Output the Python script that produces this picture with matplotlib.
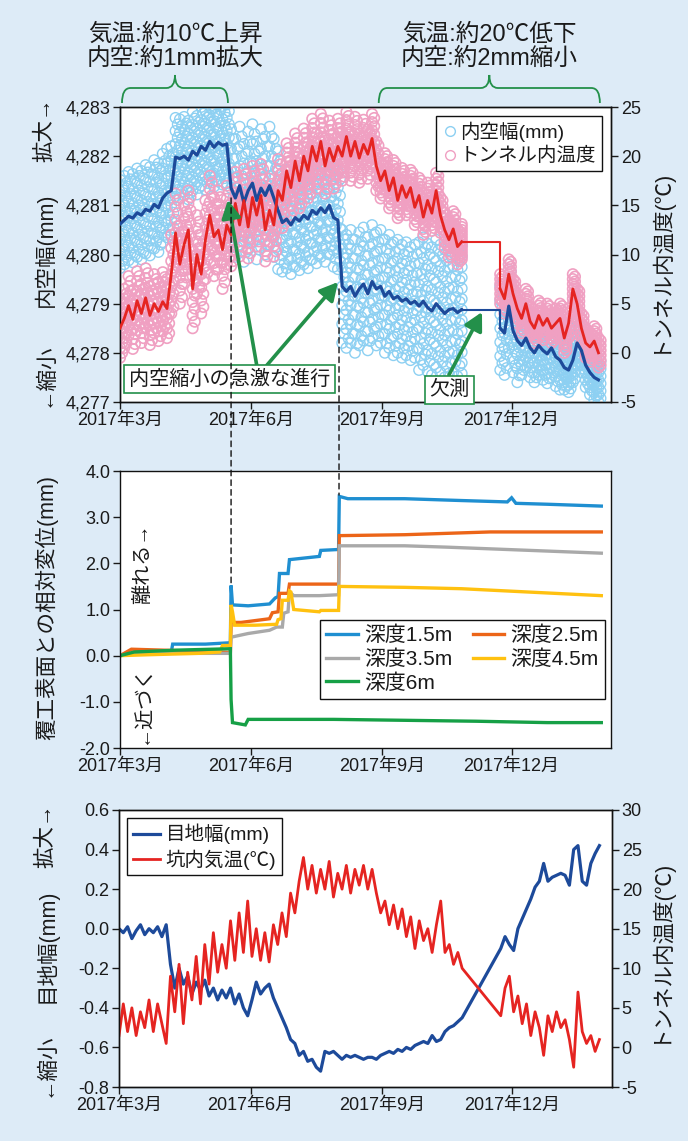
import numpy as np
import matplotlib
matplotlib.use('Agg')
import matplotlib.pyplot as plt
import matplotlib.dates as mdates
import matplotlib.transforms as mtransforms
from matplotlib.path import Path
from matplotlib.patches import PathPatch, ConnectionPatch
from matplotlib.lines import Line2D
from matplotlib.ticker import FixedLocator, FuncFormatter
from datetime import datetime

plt.rcParams['font.family'] = ['Liberation Sans', 'Noto Sans CJK JP', 'DejaVu Sans']
plt.rcParams['axes.unicode_minus'] = False
plt.rcParams['text.color'] = '#1a1a1a'
plt.rcParams['xtick.color'] = '#1a1a1a'
plt.rcParams['ytick.color'] = '#1a1a1a'

# ---- data (days counted from 2017-03-01) ----
START = datetime(2017, 3, 1)
X_END_DAY = 344.8
XTICK_DAYS = [0, 92, 184, 275]
XTICK_LABELS = ['2017年3月', '2017年6月', '2017年9月', '2017年12月']

# sample days (no data between day 240 and 267)
DAYS = list(range(0, 241, 3)) + list(range(267, 337, 3))

# top: inner width (mm) and tunnel temperature (C), daily means
TOP_WIDTH = [4280.62, 4280.70, 4280.78, 4280.74, 4280.85, 4280.80, 4280.92, 4280.88, 4281.02, 4280.95,
             4281.15, 4281.25, 4281.30, 4281.98, 4281.95, 4282.00, 4281.92, 4282.10, 4282.02, 4282.20,
             4282.12, 4282.30, 4282.18, 4282.28, 4282.22, 4282.25, 4281.35, 4281.15, 4281.40, 4281.05,
             4281.30, 4281.45, 4281.10, 4281.35, 4281.20, 4281.40, 4281.15, 4280.90, 4280.65, 4280.72,
             4280.60, 4280.75, 4280.68, 4280.80, 4280.72, 4280.90, 4280.82, 4280.95, 4280.85, 4281.00,
             4280.75, 4280.70, 4279.35, 4279.25, 4279.35, 4279.15, 4279.30, 4279.40, 4279.20, 4279.45,
             4279.30, 4279.35, 4279.15, 4279.25, 4279.10, 4279.15, 4279.05, 4279.10, 4279.00, 4279.05,
             4278.95, 4279.05, 4278.92, 4278.85, 4279.00, 4278.90, 4278.80, 4278.88, 4278.90, 4278.82,
             4278.88,
             4278.50, 4278.40, 4278.95, 4278.45, 4278.25, 4278.15, 4278.30, 4278.10, 4278.00, 4278.15,
             4278.05, 4277.98, 4278.10, 4277.92, 4277.85, 4277.70, 4277.65, 4277.85, 4278.20, 4278.05,
             4277.75, 4277.60, 4277.50, 4277.45]
# spread of the raw (hourly) readings around the daily mean
TOP_WIDTH_SPREAD = [0.9] * 13 + [0.8] * 13 + [1.2] * 12 + [1.0] * 14 + [1.15] * 18 + [1.3] * 11 \
    + [0.85] * 5 + [0.6] * 10 + [0.45] * 9

TOP_TEMP = [2.5, 3.5, 4.8, 3.4, 5.3, 4.0, 5.6, 3.8, 5.0, 4.2,
            5.2, 4.5, 8.0, 12.2, 9.0, 11.0, 12.5, 6.5, 10.0, 8.0,
            11.5, 14.0, 11.8, 12.5, 10.5, 13.0, 12.0, 15.2, 13.0, 15.5,
            12.8, 15.8, 14.0, 16.0, 12.5, 14.5, 13.0, 16.5, 15.5, 18.5,
            16.8, 19.5, 17.5, 20.0, 18.5, 21.0, 19.5, 21.5, 19.0, 20.8,
            19.5, 21.0, 20.0, 22.0, 20.0, 21.5, 19.8, 21.2, 20.2, 21.8,
            19.0, 17.5, 18.5, 16.5, 17.8, 15.5, 17.0, 15.8, 16.8, 14.8,
            16.0, 13.8, 15.5, 14.2, 16.5, 14.0, 12.5, 11.5, 12.6, 10.8,
            11.3,
            6.5, 5.5, 8.0, 6.0, 4.5, 3.5, 5.0, 3.2, 2.5, 3.8,
            2.8, 3.5, 2.5, 3.0, 3.5, 1.5, 3.0, 6.5, 5.0, 2.5,
            1.0, 0.6, 1.2, 0.0]
TOP_TEMP_SPREAD = [3.0] * 12 + [4.0] * 14 + [3.2] * 12 + [2.8] * 14 + [2.5] * 9 + [1.8] * 20 + [1.5] * 24

TOP_YTICKS = [4277, 4278, 4279, 4280, 4281, 4282, 4283]
TEMP_TICKS_TOP = [-5, 0, 5, 10, 15, 20, 25]

# middle: relative displacement from lining surface (mm), by depth
DEPTH_LABELS = ['深度1.5m', '深度2.5m', '深度3.5m', '深度4.5m', '深度6m']
D15_DAYS = [0, 10, 36, 37, 60, 77.5, 78, 79, 90, 105, 109, 111, 112, 118, 119, 140, 141, 153.5, 154,
            160, 200, 240, 272, 275, 278, 300, 338]
D15_VALS = [0.0, 0.05, 0.08, 0.25, 0.25, 0.28, 1.52, 1.10, 1.08, 1.12, 1.25, 1.28, 1.78, 1.78, 2.08,
            2.15, 2.28, 2.30, 3.45, 3.40, 3.40, 3.36, 3.33, 3.42, 3.30, 3.28, 3.24]
D25_DAYS = [0, 8, 30, 77.5, 78, 85, 105, 107, 111, 112, 118, 119, 153.5, 154, 200, 260, 338]
D25_VALS = [0.0, 0.14, 0.12, 0.07, 0.72, 0.72, 0.80, 0.93, 0.95, 1.35, 1.35, 1.55, 1.55, 2.60, 2.62,
            2.68, 2.68]
D35_DAYS = [0, 10, 77.5, 78, 90, 105, 110, 114, 115, 118, 119, 122, 140, 153.5, 154, 200, 230, 338]
D35_VALS = [0.0, 0.05, 0.05, 0.40, 0.48, 0.55, 0.62, 0.62, 0.92, 0.95, 1.38, 1.30, 1.30, 1.32, 2.38,
            2.38, 2.35, 2.22]
D45_DAYS = [0, 20, 55, 70, 72, 77.5, 78, 79, 80.5, 95, 110, 111, 113, 114, 118, 119, 120, 122, 140,
            141, 153.5, 154, 200, 240, 338]
D45_VALS = [0.0, 0.02, 0.05, 0.08, 0.22, 0.22, 1.10, 0.95, 0.66, 0.66, 0.68, 0.78, 0.80, 1.20, 1.20,
            1.40, 1.38, 1.00, 0.95, 0.98, 0.98, 1.50, 1.48, 1.45, 1.30]
D60_DAYS = [0, 10, 40, 77.5, 78, 79, 88, 90, 100, 150, 200, 250, 300, 338]
D60_VALS = [0.0, 0.08, 0.12, 0.15, -0.95, -1.45, -1.50, -1.38, -1.38, -1.38, -1.40, -1.42, -1.45, -1.45]
MID_YTICKS = [-2.0, -1.0, 0.0, 1.0, 2.0, 3.0, 4.0]

# bottom: joint width (mm) and tunnel air temperature (C)
JOINT_WIDTH = [0.00, -0.02, 0.01, -0.05, -0.01, 0.02, -0.03, 0.00, -0.02, 0.01,
               -0.04, 0.02, -0.18, -0.30, -0.20, -0.28, -0.24, -0.33, -0.27, -0.31,
               -0.26, -0.34, -0.30, -0.36, -0.31, -0.35, -0.30, -0.38, -0.33, -0.40,
               -0.44, -0.36, -0.27, -0.33, -0.30, -0.28, -0.35, -0.40, -0.45, -0.50,
               -0.56, -0.58, -0.64, -0.62, -0.67, -0.66, -0.70, -0.72, -0.62, -0.63,
               -0.62, -0.64, -0.66, -0.64, -0.65, -0.64, -0.65, -0.66, -0.65, -0.65,
               -0.66, -0.64, -0.63, -0.62, -0.63, -0.61, -0.62, -0.60, -0.61, -0.59,
               -0.58, -0.57, -0.58, -0.54, -0.57, -0.56, -0.52, -0.50, -0.49, -0.47,
               -0.45,
               -0.10, -0.04, -0.08, -0.11, 0.00, 0.05, 0.10, 0.15, 0.21, 0.24,
               0.33, 0.24, 0.26, 0.27, 0.28, 0.27, 0.22, 0.40, 0.42, 0.24,
               0.22, 0.33, 0.38, 0.42]
AIR_TEMP = [1.5, 5.5, 2.0, 5.0, 1.5, 4.5, 2.5, 6.0, 2.0, 5.5,
            3.0, 0.5, 9.0, 4.5, 10.5, 3.0, 9.5, 6.0, 11.5, 5.5,
            13.0, 8.0, 14.5, 9.5, 13.0, 10.0, 16.0, 11.0, 17.0, 12.0,
            18.5, 11.5, 15.0, 11.0, 14.5, 10.8, 15.5, 13.0, 17.0, 14.0,
            19.5, 17.0, 21.0, 24.0, 20.0, 23.0, 19.5, 22.5, 20.0, 23.5,
            19.0, 22.0, 20.0, 23.0, 19.5, 22.5, 20.5, 23.0, 20.0, 22.5,
            19.5, 17.0, 18.5, 15.5, 18.0, 15.0, 17.5, 14.0, 16.5, 12.5,
            16.0, 13.5, 15.0, 12.0, 15.5, 18.5, 12.0, 13.0, 10.5, 12.0,
            10.0,
            4.0, 7.5, 9.0, 4.5, 6.5, 3.0, 5.5, 1.5, 4.5, 2.5,
            -1.0, 4.0, 2.0, 4.5, 2.5, 3.5, 1.0, -2.5, 7.0, 2.0,
            0.5, 1.5, -0.5, 1.0]
BOT_YTICKS = [-0.8, -0.6, -0.4, -0.2, 0.0, 0.2, 0.4, 0.6]
TEMP_TICKS_BOT = [-5, 0, 5, 10, 15, 20, 25, 30]

# ---- styles ----
BG = '#ddebf7'
C_GREEN = '#23904a'
C_LINE_BLUE = '#1d4a9a'
C_LINE_RED = '#e52421'
C_DOT_BLUE = '#8dd0f2'
C_DOT_PINK = '#f0a0c2'
DEPTH_COLORS = ['#1f8fd1', '#ec6518', '#a9a9a9', '#ffc110', '#16a046']
W, H = 688, 1141
TICK_FS = 13

T0 = mdates.date2num(START)


def to_x(days):
    return T0 + np.asarray(days, dtype=float)


def style_axes(ax):
    for sp in ax.spines.values():
        sp.set_linewidth(1.0)
        sp.set_color('#111111')
    ax.tick_params(direction='out', length=5, width=1, labelsize=TICK_FS, pad=2)
    ax.set_xlim(to_x(0), to_x(X_END_DAY))
    ax.xaxis.set_major_locator(FixedLocator(to_x(XTICK_DAYS)))
    ax.set_xticklabels(XTICK_LABELS)


def band_points(xv, centre, spread, n=13):
    # circles spread over the daily range of the raw readings; alternate rows are
    # staggered by half a sample so the cloud does not line up in columns
    xs, ys = [], []
    lv = np.linspace(-1, 1, n)
    for i in range(len(xv)):
        for k, l in enumerate(lv):
            dx = 1.5 if k % 2 else 0.0
            if i + 1 < len(xv) and dx and xv[i + 1] - xv[i] > 4:
                dx = 0.0
            xs.append(xv[i] + dx)
            ys.append(centre[i] + spread[i] * l)
    return np.array(xs), np.array(ys)


def draw_brace(x0, x1, r, y_tip, y_flat, y_peak, trans):
    xc = (x0 + x1) / 2
    verts = [(x0, y_tip), (x0, y_flat), (x0 + r, y_flat),
             (xc - r, y_flat), (xc, y_flat), (xc, y_peak),
             (xc, y_flat), (xc + r, y_flat),
             (x1 - r, y_flat), (x1, y_flat), (x1, y_tip)]
    codes = [Path.MOVETO, Path.CURVE3, Path.CURVE3,
             Path.LINETO, Path.CURVE3, Path.CURVE3,
             Path.CURVE3, Path.CURVE3,
             Path.LINETO, Path.CURVE3, Path.CURVE3]
    fig.add_artist(PathPatch(Path(verts, codes), fc='none', ec=C_GREEN, lw=1.3, transform=trans))


fig = plt.figure(figsize=(W / 100, H / 100), dpi=100, facecolor=BG)

# ================= top panel =================
ax1 = fig.add_axes([120 / W, 1 - 402 / H, 491 / W, 295 / H])
ax1r = ax1.twinx()
style_axes(ax1)
style_axes(ax1r)
x = to_x(DAYS)
n_gap = len(range(0, 241, 3))

xw, yw = band_points(x, TOP_WIDTH, TOP_WIDTH_SPREAD)
xt, yt = band_points(x, TOP_TEMP, TOP_TEMP_SPREAD)
ax1r.scatter(xw, yw, s=56, facecolors='none', edgecolors=C_DOT_BLUE, linewidths=1.0,
             transform=ax1.transData, zorder=1)
ax1r.scatter(xt, yt, s=56, facecolors='none', edgecolors=C_DOT_PINK, linewidths=1.2, zorder=2)

for seg in (slice(0, n_gap), slice(n_gap, None)):
    ax1r.plot(x[seg], np.array(TOP_WIDTH)[seg], color=C_LINE_BLUE, lw=2.3,
              transform=ax1.transData, zorder=3)
    ax1r.plot(x[seg], np.array(TOP_TEMP)[seg], color=C_LINE_RED, lw=2.0, zorder=4)
# missing period connectors
ax1r.plot(x[n_gap - 1:n_gap + 1], TOP_WIDTH[n_gap - 1:n_gap + 1], drawstyle='steps-post',
          color=C_LINE_BLUE, lw=1.5, transform=ax1.transData, zorder=3)
ax1r.plot(x[n_gap - 1:n_gap + 1], TOP_TEMP[n_gap - 1:n_gap + 1], drawstyle='steps-post',
          color=C_LINE_RED, lw=1.5, zorder=4)

ax1.set_ylim(4277, 4283)
ax1r.set_ylim(-5, 25)
ax1.yaxis.set_major_locator(FixedLocator(TOP_YTICKS))
ax1.yaxis.set_major_formatter(FuncFormatter(lambda v, p: f'{v:,.0f}'))
ax1r.yaxis.set_major_locator(FixedLocator(TEMP_TICKS_TOP))
ax1r.yaxis.set_major_formatter(FuncFormatter(lambda v, p: f'{v:.0f}'))
ax1.set_xlim(to_x(0), to_x(X_END_DAY))

h1 = Line2D([], [], ls='none', marker='o', ms=7, mfc='none', mec=C_DOT_BLUE, mew=1.0)
h2 = Line2D([], [], ls='none', marker='o', ms=7, mfc='none', mec=C_DOT_PINK, mew=1.0)
leg = ax1r.legend([h1, h2], ['内空幅(mm)', 'トンネル内温度'], loc='upper right',
                  bbox_to_anchor=(0.9817, 0.9695), borderaxespad=0, fontsize=14,
                  fancybox=False, framealpha=1, edgecolor='#111111', borderpad=0.3,
                  labelspacing=0.25, handletextpad=0.1, handlelength=0.8)
leg.get_frame().set_linewidth(1.0)
leg.set_zorder(10)

# callouts
box = dict(boxstyle='square,pad=0.22', fc='white', ec=C_GREEN, lw=1.2)
ax1r.text(to_x(76.9), 4277.46, '内空縮小の急激な進行', transform=ax1.transData, ha='center',
          va='center', fontsize=14.5, bbox=box, zorder=12)
ax1r.text(to_x(231.4), 4277.25, '欠測', transform=ax1.transData, ha='center', va='center',
          fontsize=14.5, bbox=box, zorder=12)
arrow = dict(arrowstyle='-|>,head_length=0.6,head_width=0.32', color=C_GREEN, lw=2.6,
             shrinkA=0, shrinkB=0, mutation_scale=18)
for tip, tail in [((75.8, 4281.11), (96.0, 4277.75)),
                  ((153.1, 4279.44), (103.2, 4277.75)),
                  ((254.2, 4278.83), (231.0, 4277.55))]:
    ax1r.annotate('', xy=(to_x(tip[0]), tip[1]), xycoords=ax1.transData,
                  xytext=(to_x(tail[0]), tail[1]), textcoords=ax1.transData,
                  arrowprops=arrow, zorder=11)

# axis labels
fig.text(45 / W, 1 - 97 / H, '拡大→', rotation=90, ha='center', va='top', fontsize=15.5)
fig.text(45 / W, 1 - 250 / H, '内空幅(mm)', rotation=90, ha='center', va='center', fontsize=15.5)
fig.text(45 / W, 1 - 407 / H, '←縮小', rotation=90, ha='center', va='bottom', fontsize=15.5)
fig.text(658 / W, 1 - 260 / H, 'トンネル内温度(℃)', rotation=90, ha='center', va='center',
         fontsize=15.5)

# braces + notes above
tr = mtransforms.blended_transform_factory(ax1.transData, fig.transFigure)
draw_brace(to_x(1.4), to_x(75.8), 6, 1 - 103 / H, 1 - 88 / H, 1 - 75 / H, tr)
draw_brace(to_x(181.7), to_x(337.0), 6, 1 - 103 / H, 1 - 88 / H, 1 - 75 / H, tr)
fig.text(to_x(38.6), 1 - 47 / H, '気温:約10℃上昇\n内空:約1mm拡大', transform=tr, ha='center',
         va='center', fontsize=17, linespacing=1.1)
fig.text(to_x(259.3), 1 - 47 / H, '気温:約20℃低下\n内空:約2mm縮小', transform=tr, ha='center',
         va='center', fontsize=17, linespacing=1.1)

# ================= middle panel =================
ax2 = fig.add_axes([120 / W, 1 - 748 / H, 491 / W, 277 / H])
ax2.set_facecolor('white')
style_axes(ax2)
series = [(D15_DAYS, D15_VALS), (D25_DAYS, D25_VALS), (D35_DAYS, D35_VALS),
          (D45_DAYS, D45_VALS), (D60_DAYS, D60_VALS)]
handles = []
for (d, v), c, lab in zip(series, DEPTH_COLORS, DEPTH_LABELS):
    ln, = ax2.plot(to_x(d), v, color=c, lw=2.4, label=lab, solid_joinstyle='miter')
    handles.append(ln)
ax2.set_ylim(-2.0, 4.0)
ax2.yaxis.set_major_locator(FixedLocator(MID_YTICKS))
ax2.yaxis.set_major_formatter(FuncFormatter(lambda v, p: f'{v:.1f}'))
order = [0, 2, 4, 1, 3]
leg2 = ax2.legend([handles[i] for i in order], [DEPTH_LABELS[i] for i in order], ncol=2,
                  loc='lower right', bbox_to_anchor=(0.9878, 0.177), borderaxespad=0,
                  fontsize=15, fancybox=False, framealpha=1, edgecolor='#111111',
                  borderpad=0.3, labelspacing=0.2, handletextpad=0.3, handlelength=1.5,
                  columnspacing=1.0)
leg2.get_frame().set_linewidth(1.0)
ax2.text(0.047, 0.664, '離れる→', transform=ax2.transAxes, rotation=90, ha='center',
         va='center', fontsize=14.5)
ax2.text(0.047, 0.159, '←近づく', transform=ax2.transAxes, rotation=90, ha='center',
         va='center', fontsize=14.5)
fig.text(47 / W, 1 - 608 / H, '覆工表面との相対変位(mm)', rotation=90, ha='center',
         va='center', fontsize=15.5)

# dashed guide lines linking the two panels
for day, ya, yb in [(78.0, 4281.15, 1.53), (153.8, 4279.30, 3.48)]:
    con = ConnectionPatch(xyA=(to_x(day), ya), coordsA=ax1.transData,
                          xyB=(to_x(day), yb), coordsB=ax2.transData,
                          ls=(0, (4, 3)), lw=1.0, color='#111111', zorder=20)
    fig.add_artist(con)

# ================= bottom panel =================
ax3 = fig.add_axes([119 / W, 1 - 1087 / H, 493 / W, 277 / H])
ax3r = ax3.twinx()
style_axes(ax3)
style_axes(ax3r)
lb, = ax3.plot(x, JOINT_WIDTH, color=C_LINE_BLUE, lw=2.3)
lr, = ax3r.plot(x, AIR_TEMP, color=C_LINE_RED, lw=2.0)
ax3.set_ylim(-0.8, 0.6)
ax3r.set_ylim(-5, 30)
ax3.yaxis.set_major_locator(FixedLocator(BOT_YTICKS))
ax3.yaxis.set_major_formatter(FuncFormatter(lambda v, p: f'{v:.1f}'))
ax3r.yaxis.set_major_locator(FixedLocator(TEMP_TICKS_BOT))
ax3r.yaxis.set_major_formatter(FuncFormatter(lambda v, p: f'{v:.0f}'))
ax3.set_xlim(to_x(0), to_x(X_END_DAY))
leg3 = ax3r.legend([lb, lr], ['目地幅(mm)', '坑内気温(℃)'], loc='upper left',
                   bbox_to_anchor=(0.016, 0.971), borderaxespad=0, fontsize=14,
                   fancybox=False, framealpha=1, edgecolor='#111111', borderpad=0.3,
                   labelspacing=0.25, handletextpad=0.3, handlelength=1.4)
leg3.get_frame().set_linewidth(1.0)

fig.text(46 / W, 1 - 803 / H, '拡大→', rotation=90, ha='center', va='top', fontsize=15.5)
fig.text(46 / W, 1 - 946 / H, '目地幅(mm)', rotation=90, ha='center', va='center', fontsize=15.5)
fig.text(46 / W, 1 - 1097 / H, '←縮小', rotation=90, ha='center', va='bottom', fontsize=15.5)
fig.text(658 / W, 1 - 950 / H, 'トンネル内温度(℃)', rotation=90, ha='center', va='center',
         fontsize=15.5)

fig.savefig('out.png', dpi=100, facecolor=BG)
